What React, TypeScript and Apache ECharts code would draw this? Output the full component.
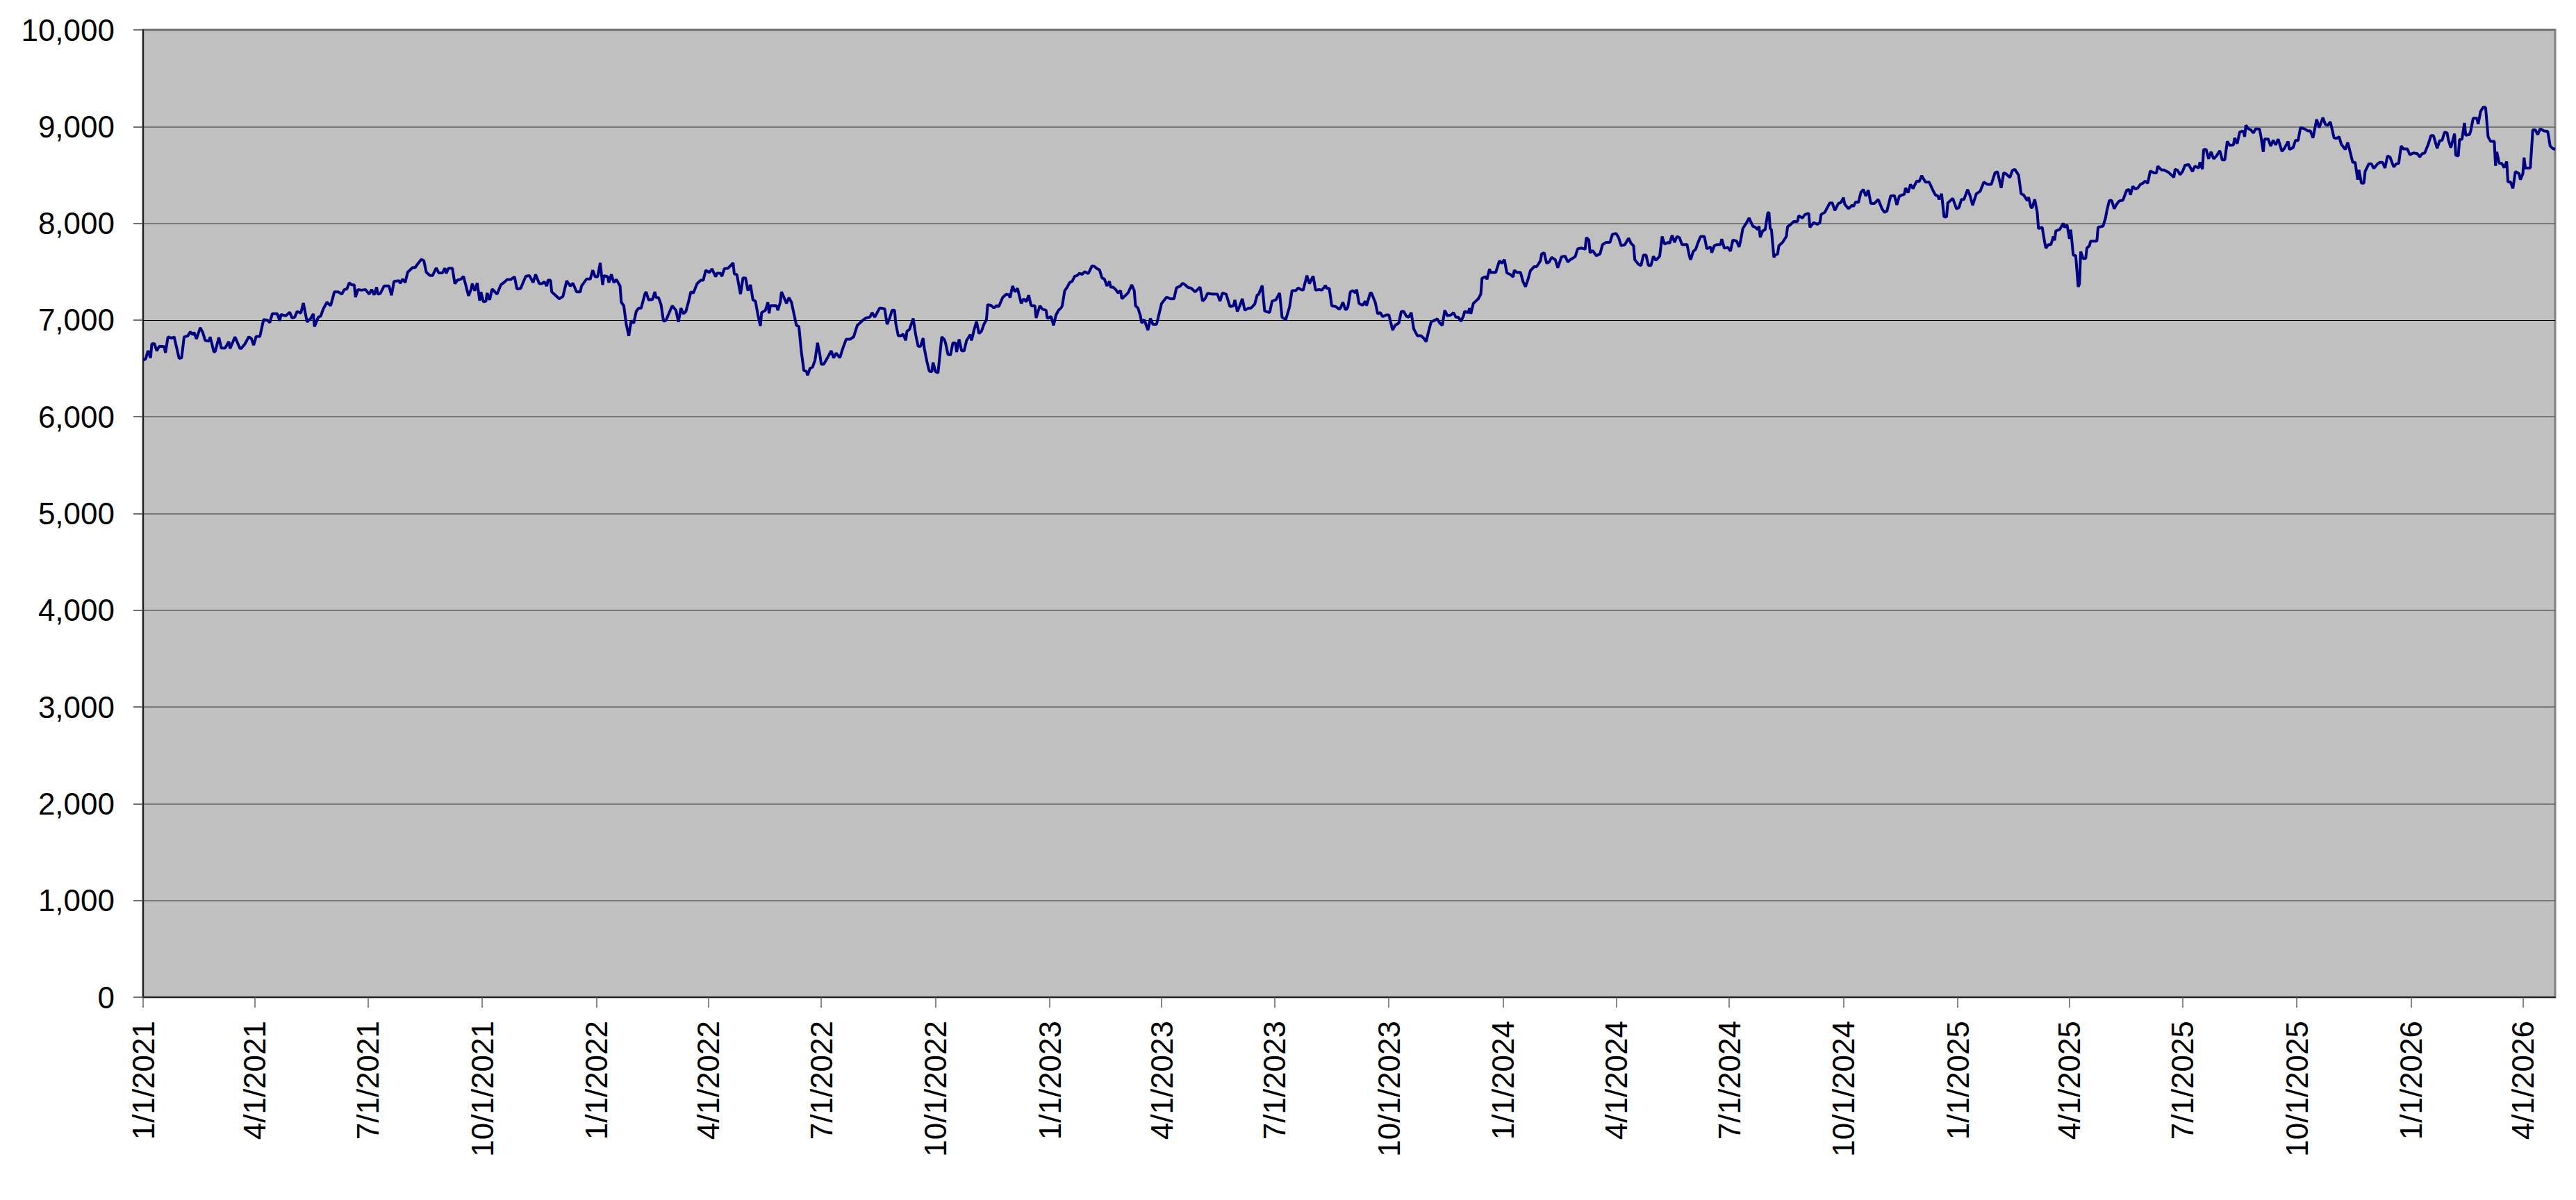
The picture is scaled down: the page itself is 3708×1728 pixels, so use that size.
import React, { useEffect, useRef } from "react";
import * as echarts from "echarts";

// Day offsets are calendar days counted from 1/1/2021.
const DAY_MS = 86400000;
const START_MS = Date.UTC(2021, 0, 1);
const LAST_DAY = 1942;

const xTickLabels = [
  "1/1/2021", "4/1/2021", "7/1/2021", "10/1/2021",
  "1/1/2022", "4/1/2022", "7/1/2022", "10/1/2022",
  "1/1/2023", "4/1/2023", "7/1/2023", "10/1/2023",
  "1/1/2024", "4/1/2024", "7/1/2024", "10/1/2024",
  "1/1/2025", "4/1/2025", "7/1/2025", "10/1/2025",
  "1/1/2026", "4/1/2026",
];

const yMin = 0;
const yMax = 10000;
const yStep = 1000;
const darkGridValue = 7000;

// [day offset, value]
const period1: [number, number][] = [
  [0, 6586], [2, 6598], [4, 6682], [6, 6610], [7, 6753], [9, 6758], [11, 6682], [13, 6729], [17, 6725], [18, 6662],
  [20, 6825], [23, 6813], [25, 6825], [28, 6658], [29, 6605], [31, 6610], [33, 6825], [36, 6837], [38, 6878], [40, 6849],
  [41, 6873], [43, 6806], [46, 6921], [48, 6873], [50, 6789], [53, 6782], [54, 6825], [57, 6670], [58, 6675], [61, 6820],
  [63, 6710], [66, 6710], [69, 6777], [70, 6706], [74, 6825], [78, 6706], [79, 6706], [82, 6753], [85, 6825], [87, 6813],
  [89, 6741], [91, 6830], [94, 6830], [97, 7005], [100, 7000], [102, 6974], [104, 7065], [108, 7065], [110, 6993], [111, 7057],
  [115, 7045], [118, 7081], [120, 7022], [122, 7029], [124, 7089], [127, 7072], [129, 7177], [132, 6981], [135, 7017], [137, 7065],
  [138, 6933], [141, 7029], [143, 7041], [145, 7113], [148, 7184], [151, 7148], [154, 7292], [157, 7292], [160, 7268], [162, 7316],
  [164, 7321], [166, 7385], [168, 7364], [170, 7364], [171, 7237], [173, 7316], [176, 7309], [179, 7316], [182, 7268], [184, 7316],
  [186, 7261], [188, 7340], [189, 7268], [191, 7275], [194, 7352], [198, 7352], [200, 7256], [202, 7400], [206, 7407], [207, 7380],
  [209, 7424], [211, 7388], [213, 7495], [217, 7543], [219, 7543], [221, 7579], [224, 7627], [226, 7615], [228, 7495], [231, 7460],
  [233, 7460], [236, 7539], [238, 7488], [241, 7488], [243, 7536], [244, 7483], [246, 7536], [249, 7536], [251, 7376], [253, 7412],
  [256, 7424], [258, 7452], [259, 7400], [262, 7251], [264, 7316], [265, 7376], [267, 7304], [269, 7383], [271, 7201], [272, 7290],
  [274, 7189], [276, 7194], [277, 7280], [279, 7208], [281, 7321], [285, 7268], [288, 7364], [291, 7393], [293, 7419], [296, 7419],
  [299, 7448], [301, 7321], [304, 7328], [308, 7452], [311, 7460], [314, 7388], [316, 7472], [319, 7376],
];

const period2: [number, number][] = [
  [321, 7376], [323, 7395], [325, 7352], [326, 7412], [328, 7412], [329, 7292], [332, 7256], [335, 7220], [338, 7244], [341, 7405],
  [344, 7352], [346, 7381], [349, 7292], [352, 7292], [353, 7352], [357, 7424], [360, 7424], [362, 7515], [364, 7448], [366, 7448],
  [368, 7591], [370, 7364], [371, 7460], [374, 7448], [375, 7388], [377, 7472], [379, 7388], [381, 7419], [384, 7352], [385, 7184],
  [387, 7148], [389, 6957], [391, 6837], [393, 6993], [395, 6969], [397, 7089], [399, 7124], [401, 7124], [404, 7268], [405, 7292],
  [407, 7208], [409, 7213], [410, 7208], [412, 7292], [413, 7232], [415, 7232], [417, 7160], [419, 6988], [421, 6998], [424, 7089],
  [426, 7148], [429, 7101], [431, 6981], [433, 7124], [435, 7065], [437, 7089], [439, 7184], [441, 7292], [443, 7280], [446, 7376],
  [449, 7412], [451, 7412], [453, 7515], [456, 7491], [458, 7529], [461, 7448], [462, 7484], [465, 7484], [466, 7452], [468, 7531],
  [471, 7536], [475, 7591], [476, 7476], [478, 7472], [481, 7268], [483, 7436], [485, 7436], [487, 7304], [489, 7364], [491, 7208],
  [493, 7196], [495, 7053], [497, 6940], [498, 7077], [501, 7101], [503, 7184], [504, 7069], [505, 7148], [510, 7148], [511, 7101],
  [513, 7184], [514, 7292], [516, 7232], [518, 7172], [520, 7232], [522, 7184], [524, 7065], [526, 6945], [528, 6933], [530, 6670],
  [532, 6478], [534, 6471], [535, 6430], [537, 6502], [539, 6514], [541, 6586], [543, 6765], [545, 6634], [546, 6543], [548, 6543],
  [551, 6610], [554, 6682], [556, 6610], [558, 6658], [561, 6610], [563, 6694], [566, 6801], [569, 6801], [572, 6825], [575, 6945],
  [577, 6969], [579, 6993], [582, 7022], [585, 7029], [587, 7077], [589, 7029], [593, 7124], [594, 7124], [597, 7117], [599, 6957],
  [601, 7017], [603, 7101], [605, 7101], [606, 6964], [608, 6837], [610, 6837], [612, 6854], [614, 6789], [615, 6885], [617, 6902],
  [620, 7017], [622, 6849], [624, 6729], [626, 6729], [628, 6813], [629, 6706], [631, 6574], [633, 6471], [635, 6466], [636, 6562],
  [638, 6466], [640, 6454], [643, 6825], [645, 6801],
];

const period3: [number, number][] = [
  [646, 6765], [648, 6646], [650, 6639], [652, 6765], [654, 6765], [655, 6670], [657, 6801], [659, 6682], [661, 6682], [663, 6789],
  [666, 6849], [667, 6789], [669, 6897], [671, 6986], [673, 6861], [675, 6885], [677, 6957], [679, 7005], [680, 7160], [683, 7148],
  [685, 7124], [687, 7148], [689, 7141], [692, 7232], [695, 7268], [697, 7261], [698, 7232], [700, 7352], [702, 7292], [704, 7328],
  [707, 7172], [709, 7220], [711, 7189], [713, 7256], [715, 7148], [718, 7148], [719, 7022], [722, 7148], [724, 7113], [727, 7101],
  [728, 7017], [731, 7036], [733, 6945], [735, 7053], [737, 7101], [739, 7124], [740, 7148], [742, 7304], [744, 7340], [746, 7388],
  [748, 7400], [750, 7452], [752, 7460], [754, 7484], [756, 7472], [758, 7500], [761, 7481], [764, 7560], [766, 7555], [768, 7531],
  [770, 7519], [772, 7436], [774, 7424], [776, 7352], [778, 7400], [779, 7340], [781, 7340], [783, 7316], [785, 7280], [787, 7304],
  [788, 7220], [791, 7256], [793, 7280], [796, 7364], [798, 7304], [799, 7148], [801, 7124], [803, 7041], [804, 6969], [806, 7005],
  [809, 6897], [811, 7017], [813, 6957], [816, 6957], [818, 7065], [820, 7172], [824, 7237], [827, 7220], [830, 7220], [832, 7333],
  [835, 7352], [837, 7381], [839, 7364], [841, 7340], [844, 7328], [847, 7292], [849, 7316], [851, 7340], [853, 7196], [855, 7220],
  [857, 7275], [861, 7268], [865, 7268], [867, 7196], [869, 7280], [872, 7268], [875, 7141], [878, 7148], [879, 7208], [881, 7089],
  [883, 7148], [885, 7220], [887, 7101], [890, 7124], [892, 7124], [895, 7165], [897, 7261], [898, 7261], [901, 7357], [903, 7093],
  [907, 7077], [909, 7196], [912, 7208], [915, 7280], [917, 7029], [920, 7005], [923, 7136], [925, 7304], [928, 7304], [930, 7333],
  [932, 7316], [934, 7309], [937, 7460], [939, 7376], [942, 7455], [944, 7309], [947, 7316], [949, 7309], [952, 7357], [953, 7328],
  [955, 7328], [957, 7148], [960, 7141], [963, 7113], [964, 7124], [966, 7184], [968, 7108], [969, 7113],
];

const period4: [number, number][] = [
  [970, 7136], [972, 7292], [974, 7304], [976, 7280], [977, 7316], [979, 7172], [982, 7153], [984, 7196], [985, 7148], [988, 7280],
  [989, 7280], [992, 7184], [994, 7065], [996, 7077], [998, 7036], [1001, 7053], [1003, 7053], [1006, 6897], [1008, 6945], [1011, 6969],
  [1013, 7089], [1015, 7089], [1017, 7041], [1019, 7029], [1021, 7077], [1023, 6909], [1024, 6885], [1026, 6837], [1029, 6837], [1031, 6813],
  [1033, 6777], [1035, 6885], [1037, 6981], [1039, 6993], [1042, 7012], [1044, 6969], [1046, 6945], [1048, 7101], [1050, 7045], [1053, 7053],
  [1055, 7077], [1057, 7029], [1059, 7029], [1061, 6988], [1063, 7041], [1064, 7089], [1067, 7077], [1068, 7124], [1069, 7065], [1071, 7172],
  [1073, 7196], [1075, 7220], [1077, 7268], [1078, 7433], [1081, 7450], [1082, 7421], [1084, 7528], [1085, 7492], [1089, 7492], [1092, 7612],
  [1094, 7588], [1096, 7624], [1098, 7488], [1101, 7469], [1103, 7445], [1104, 7516], [1106, 7492], [1109, 7492], [1111, 7397], [1113, 7344],
  [1115, 7421], [1117, 7512], [1120, 7552], [1122, 7552], [1125, 7612], [1126, 7684], [1128, 7696], [1130, 7588], [1132, 7600], [1134, 7648],
  [1137, 7624], [1139, 7540], [1142, 7655], [1145, 7660], [1147, 7600], [1149, 7624], [1153, 7655], [1155, 7737], [1158, 7744], [1161, 7732],
  [1162, 7852], [1164, 7828], [1165, 7696], [1167, 7720], [1170, 7665], [1173, 7684], [1175, 7780], [1178, 7804], [1181, 7804], [1183, 7887],
  [1186, 7895], [1188, 7852], [1190, 7768], [1193, 7780], [1196, 7847], [1198, 7792], [1200, 7768], [1201, 7624], [1204, 7576], [1206, 7564],
  [1208, 7672], [1210, 7672], [1212, 7564], [1214, 7564], [1216, 7660], [1218, 7617], [1221, 7660], [1223, 7864], [1225, 7785], [1228, 7804],
  [1229, 7792], [1231, 7876], [1233, 7804], [1235, 7864], [1237, 7852], [1239, 7780], [1242, 7780], [1243, 7785], [1245, 7660], [1246, 7624],
  [1248, 7708], [1250, 7732], [1252, 7804], [1254, 7864], [1257, 7864], [1259, 7737], [1262, 7756], [1263, 7696], [1265, 7768], [1267, 7780],
  [1270, 7780], [1271, 7837], [1273, 7744], [1276, 7751], [1278, 7713], [1280, 7828], [1283, 7816], [1285, 7756], [1286, 7808], [1288, 7947],
  [1291, 8007], [1293, 8055],
];

const period5: [number, number][] = [
  [1296, 7971], [1298, 7959], [1300, 7935], [1301, 7971], [1302, 7856], [1304, 7923], [1306, 7935], [1308, 8103], [1309, 8115], [1310, 7947],
  [1311, 7935], [1313, 7648], [1314, 7672], [1316, 7684], [1317, 7768], [1320, 7804], [1323, 7864], [1324, 7966], [1326, 7983], [1329, 8019],
  [1332, 8019], [1333, 8079], [1336, 8055], [1338, 8091], [1341, 8103], [1342, 7959], [1345, 8007], [1348, 7990], [1350, 8007], [1351, 8091],
  [1354, 8115], [1358, 8211], [1360, 8211], [1362, 8134], [1365, 8206], [1367, 8215], [1369, 8266], [1370, 8199], [1373, 8151], [1376, 8187],
  [1377, 8175], [1379, 8223], [1381, 8215], [1383, 8318], [1385, 8350], [1387, 8282], [1389, 8343], [1391, 8206], [1394, 8206], [1397, 8247],
  [1400, 8151], [1402, 8115], [1404, 8127], [1407, 8282], [1410, 8287], [1412, 8192], [1414, 8282], [1418, 8302], [1419, 8366], [1421, 8318],
  [1423, 8402], [1425, 8359], [1428, 8438], [1430, 8431], [1432, 8493], [1435, 8426], [1438, 8426], [1441, 8342], [1443, 8294], [1445, 8282],
  [1446, 8247], [1448, 8306], [1450, 8067], [1452, 8067], [1453, 8211], [1457, 8258], [1460, 8151], [1462, 8163], [1464, 8247], [1466, 8247],
  [1469, 8350], [1471, 8282], [1473, 8187], [1476, 8306], [1479, 8330], [1482, 8426], [1485, 8402], [1488, 8402], [1491, 8522], [1493, 8534],
  [1496, 8366], [1498, 8522], [1500, 8510], [1503, 8474], [1505, 8546], [1507, 8558], [1510, 8498], [1512, 8306], [1514, 8294], [1517, 8235],
  [1518, 8271], [1520, 8163], [1521, 8163], [1523, 8247], [1525, 8115], [1526, 7947], [1529, 7959], [1531, 7804], [1532, 7744], [1534, 7780],
  [1536, 7780], [1538, 7864], [1539, 7823], [1540, 7923], [1543, 7935], [1546, 8000], [1547, 7959], [1549, 7983], [1551, 7840], [1552, 7935],
  [1554, 7672], [1556, 7665], [1558, 7344], [1559, 7373], [1560, 7708], [1562, 7636], [1564, 7636], [1565, 7744], [1567, 7768], [1568, 7816],
  [1573, 7816], [1574, 7959], [1578, 7971], [1580, 8055], [1581, 8127], [1583, 8235], [1585, 8235], [1587, 8151], [1589, 8199], [1591, 8230],
  [1594, 8239], [1597, 8342], [1599, 8350], [1600, 8294], [1602, 8383], [1604, 8354], [1606, 8366], [1608, 8402], [1610, 8414], [1612, 8438],
  [1614, 8414], [1616, 8541], [1619, 8522], [1621, 8522],
];

const period6: [number, number][] = [
  [1622, 8591], [1625, 8552], [1627, 8552], [1631, 8524], [1633, 8500], [1635, 8476], [1636, 8560], [1638, 8548], [1640, 8504], [1642, 8536],
  [1644, 8600], [1647, 8607], [1650, 8536], [1652, 8591], [1655, 8572], [1656, 8631], [1658, 8560], [1659, 8763], [1661, 8763], [1663, 8667],
  [1665, 8739], [1667, 8667], [1669, 8691], [1672, 8751], [1674, 8655], [1676, 8655], [1678, 8847], [1680, 8806], [1683, 8811], [1684, 8883],
  [1686, 8823], [1688, 8943], [1691, 8955], [1692, 8895], [1693, 9014], [1695, 8978], [1697, 8966], [1699, 8935], [1701, 8978], [1704, 8974],
  [1705, 8907], [1707, 8739], [1708, 8871], [1711, 8871], [1713, 8799], [1715, 8859], [1717, 8811], [1719, 8871], [1722, 8744], [1724, 8775],
  [1727, 8847], [1728, 8763], [1731, 8782], [1733, 8859], [1735, 8854], [1737, 8990], [1740, 8978], [1743, 8955], [1745, 8955], [1747, 8883],
  [1750, 9074], [1752, 8990], [1755, 9093], [1757, 9022], [1759, 9014], [1761, 9050], [1764, 8883], [1766, 8878], [1768, 8895], [1770, 8811],
  [1771, 8799], [1773, 8763], [1775, 8835], [1776, 8787], [1779, 8631], [1781, 8631], [1783, 8452], [1784, 8552], [1786, 8416], [1788, 8416],
  [1789, 8536], [1792, 8615], [1794, 8615], [1796, 8567], [1799, 8615], [1801, 8631], [1803, 8631], [1805, 8572], [1807, 8696], [1809, 8686],
  [1812, 8583], [1814, 8615], [1816, 8619], [1818, 8799], [1820, 8768], [1823, 8768], [1825, 8710], [1828, 8727], [1831, 8720], [1833, 8686],
  [1835, 8720], [1837, 8727], [1840, 8823], [1842, 8907], [1844, 8907], [1847, 8775], [1849, 8854], [1851, 8859], [1853, 8943], [1855, 8935],
  [1856, 8864], [1858, 8782], [1861, 8926], [1862, 8703], [1864, 8696], [1865, 8864], [1867, 8871], [1869, 9038], [1870, 8911], [1873, 8918],
  [1874, 8955], [1876, 9086], [1879, 9086], [1880, 9026], [1882, 9158], [1884, 9199], [1886, 9199], [1888, 8895], [1890, 8847], [1893, 8847],
  [1894, 8595], [1895, 8739], [1897, 8619], [1899, 8619], [1901, 8576], [1903, 8639], [1904, 8428], [1906, 8428], [1908, 8361], [1910, 8536],
  [1913, 8512], [1914, 8452], [1916, 8512], [1917, 8679], [1918, 8572], [1922, 8572], [1924, 8966], [1926, 8966], [1928, 8918], [1930, 8978],
  [1933, 8955], [1936, 8950], [1938, 8799], [1940, 8775], [1942, 8763],
];

const FONT = "'Liberation Sans', Arial, Helvetica, sans-serif";

function parseMDY(s: string): number {
  const [m, d, y] = s.split("/").map(Number);
  return Date.UTC(y, m - 1, d);
}

function fmtMDY(v: number): string {
  const d = new Date(v);
  return `${d.getUTCMonth() + 1}/${d.getUTCDate()}/${d.getUTCFullYear()}`;
}

export default function App() {
  const ref = useRef<HTMLDivElement>(null);

  useEffect(() => {
    document.body.style.margin = "0";
    if (!ref.current) return;
    const chart = echarts.init(ref.current, null, { renderer: "svg" });

    const all = [...period1, ...period2, ...period3, ...period4, ...period5, ...period6];
    const data = all.map(([day, v]) => [START_MS + day * DAY_MS, v]);
    const xTickValues = xTickLabels.map(parseMDY);

    const gridColors: string[] = [];
    for (let v = yMin; v <= yMax; v += yStep) {
      gridColors.push(v === darkGridValue ? "rgba(0,0,0,0)" : "#606060");
    }

    chart.setOption({
      animation: false,
      backgroundColor: "#ffffff",
      grid: {
        left: 206,
        right: 30,
        top: 43,
        bottom: 292,
        show: true,
        backgroundColor: "#C0C0C0",
        borderColor: "#808080",
        borderWidth: 3,
        containLabel: false,
        outerBoundsMode: "none",
      },
      xAxis: {
        type: "value",
        min: START_MS,
        max: START_MS + LAST_DAY * DAY_MS,
        axisLine: { show: true, onZero: false, lineStyle: { color: "#202020", width: 2 } },
        axisTick: {
          show: true,
          inside: false,
          length: 15,
          customValues: xTickValues,
          lineStyle: { color: "#606060", width: 1.5 },
        },
        axisLabel: {
          show: true,
          rotate: 90,
          margin: 34,
          customValues: xTickValues,
          formatter: (v: number) => fmtMDY(v),
          color: "#000000",
          fontSize: 44,
          fontFamily: FONT,
          hideOverlap: false,
          showMinLabel: true,
          showMaxLabel: true,
        },
        splitLine: { show: false },
        minorTick: { show: false },
      },
      yAxis: {
        type: "value",
        min: yMin,
        max: yMax,
        interval: yStep,
        axisLine: { show: true, lineStyle: { color: "#202020", width: 2 } },
        axisTick: { show: true, inside: false, length: 14, lineStyle: { color: "#404040", width: 1.5 } },
        axisLabel: {
          margin: 41,
          color: "#000000",
          fontSize: 44,
          fontFamily: FONT,
          formatter: (v: number) => v.toLocaleString("en-US"),
        },
        splitLine: { show: true, lineStyle: { color: gridColors, width: 1.5 } },
      },
      series: [
        {
          type: "line",
          data,
          showSymbol: false,
          symbol: "none",
          silent: true,
          z: 3,
          lineStyle: { color: "#000080", width: 4 },
          itemStyle: { color: "#000080" },
          emphasis: { disabled: true },
          markLine: {
            silent: true,
            symbol: "none",
            animation: false,
            z: 1,
            label: { show: false },
            emphasis: { disabled: true },
            lineStyle: { color: "#000000", width: 1, type: "solid" },
            data: [{ yAxis: darkGridValue }],
          },
        },
      ],
    });

    return () => chart.dispose();
  }, []);

  return (
    <div
      ref={ref}
      style={{ position: "absolute", left: 0, top: 0, width: 3708, height: 1728, background: "#ffffff" }}
    />
  );
}
